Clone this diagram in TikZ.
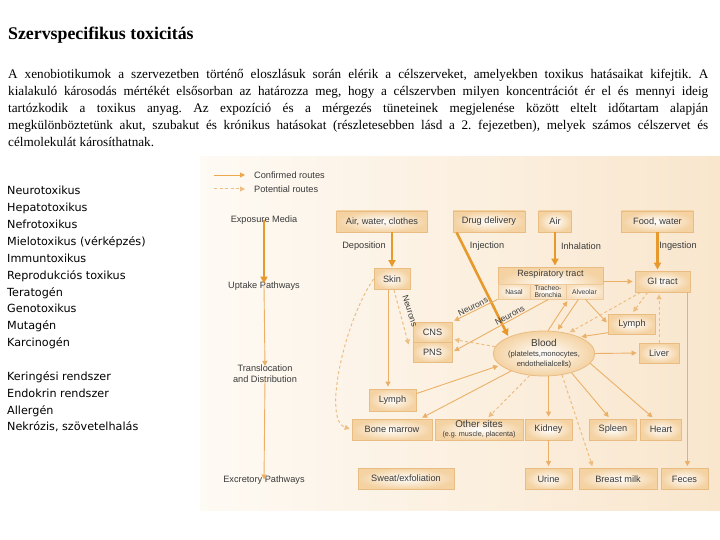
\documentclass[tikz,border=0pt]{standalone}
\usepackage{fontspec}
\setmainfont{Liberation Serif}
\newfontfamily\dfont{Liberation Sans}
\newfontfamily\lfont{DejaVu Sans}
\usetikzlibrary{arrows.meta,calc,shapes.geometric}
\definecolor{thickc}{HTML}{E8992C}
\definecolor{thinc}{HTML}{EBB066}
\definecolor{dashc}{HTML}{EDBD83}
\definecolor{boxfill}{HTML}{F4D2A2}
\definecolor{boxline}{HTML}{E8BC82}
\definecolor{txt}{HTML}{3A3A3A}
\definecolor{panelL}{HTML}{FEFAF4}
\definecolor{panelR}{HTML}{F9E6CD}
\frenchspacing
\begin{document}
\begin{tikzpicture}[x=1pt,y=-1pt,
  box/.style={draw=boxline, line width=0.8pt, inner color=white, outer color=boxfill,
    minimum height=21pt, inner sep=0pt, font=\dfont\fontsize{9.2}{10}\selectfont, text=txt},
  subbox/.style={draw=boxline!80, line width=0.5pt, inner color=white, outer color=boxfill!70,
    minimum height=15pt, inner sep=0pt, align=center, font=\dfont\fontsize{6.8}{6.6}\selectfont, text=txt},
  lbl/.style={inner sep=0pt, font=\dfont\fontsize{9.2}{11}\selectfont, text=txt},
  nlbl/.style={inner sep=0pt, font=\dfont\fontsize{8.5}{9}\selectfont, text=txt},
  plist/.style={anchor=base west, inner sep=0pt, font=\fontsize{13.2}{15}\selectfont},
  llist/.style={anchor=base west, inner sep=0pt, font=\lfont\fontsize{11.2}{12}\selectfont},
  thickarr/.style={draw=thickc, line width=2.6pt, -{Triangle[length=7pt,width=7pt]}, shorten >=1pt},
  thinarr/.style={draw=thinc, line width=0.9pt, -{Triangle[length=5pt,width=5pt]}, shorten >=2pt},
  dasharr/.style={draw=dashc, line width=1pt, dash pattern=on 3pt off 2.5pt, -{Triangle[length=5pt,width=5pt]}, shorten >=2pt}
]
\useasboundingbox (0,0) rectangle (720,540);
\fill[white] (0,0) rectangle (720,540);

% title and paragraph
\node[anchor=base west, inner sep=0pt, font=\bfseries\fontsize{17.8}{19}\selectfont] (title) at (8,40) {Szervspecifikus toxicitás};
\node[plist] (p1) at (8,79) {\makebox[700pt][s]{A xenobiotikumok a szervezetben történő eloszlásuk során elérik a célszerveket, amelyekben toxikus hatásaikat kifejtik. A}};
\node[plist] (p2) at (8,96) {\makebox[700pt][s]{kialakuló károsodás mértékét elsősorban az határozza meg, hogy a célszervben milyen koncentrációt ér el és mennyi ideig}};
\node[plist] (p3) at (8,113) {\makebox[700pt][s]{tartózkodik a toxikus anyag. Az expozíció és a mérgezés tüneteinek megjelenése között eltelt időtartam alapján}};
\node[plist] (p4) at (8,130) {\makebox[700pt][s]{megkülönböztetünk akut, szubakut és krónikus hatásokat (részletesebben lásd a 2. fejezetben), melyek számos célszervet és}};
\node[plist] (p5) at (8,147) {célmolekulát károsíthatnak.};

% left list
\node[llist] (l1) at (7,195) {Neurotoxikus};
\node[llist] (l2) at (7,211.8) {Hepatotoxikus};
\node[llist] (l3) at (7,228.7) {Nefrotoxikus};
\node[llist] (l4) at (7,245.5) {Mielotoxikus (vérképzés)};
\node[llist] (l5) at (7,262.4) {Immuntoxikus};
\node[llist] (l6) at (7,279.2) {Reprodukciós toxikus};
\node[llist] (l7) at (7,296) {Teratogén};
\node[llist] (l8) at (7,312.9) {Genotoxikus};
\node[llist] (l9) at (7,329.8) {Mutagén};
\node[llist] (l10) at (7,346.6) {Karcinogén};
\node[llist] (l11) at (7,380.3) {Keringési rendszer};
\node[llist] (l12) at (7,397.2) {Endokrin rendszer};
\node[llist] (l13) at (7,414) {Allergén};
\node[llist] (l14) at (7,430.9) {Nekrózis, szövetelhalás};

% panel
\fill[left color=panelL, right color=panelR] (200,157) rectangle (720,510);

% legend
\coordinate (lg1s) at (214,175); \coordinate (lg1e) at (247,175);
\coordinate (lg2s) at (214,189); \coordinate (lg2e) at (247,189);
\draw[thinarr, draw=thickc!85] (lg1s) -- (lg1e);
\draw[dasharr] (lg2s) -- (lg2e);
\node[lbl, anchor=west] (lgt1) at (254,175) {Confirmed routes};
\node[lbl, anchor=west] (lgt2) at (254,189) {Potential routes};

% left column
\node[lbl] (em) at (264,220) {Exposure Media};
\node[lbl] (up) at (264,286) {Uptake Pathways};
\node[lbl, align=center] (td) at (265,374) {Translocation\\and Distribution};
\node[lbl] (ex) at (264,480) {Excretory Pathways};
\draw[thickarr] ([yshift=4pt]em.south) -- ([yshift=-3pt]up.north);
\draw[thinarr] ([yshift=5pt]up.south) -- ([yshift=-3pt]td.north);
\draw[thinarr] ([yshift=5pt]td.south) -- ([yshift=-6pt]ex.north);

% top row
\node[box, minimum width=91pt] (awc) at (382,221.5) {Air, water, clothes};
\node[box, minimum width=72pt] (drug) at (489,221.5) {Drug delivery};
\node[box, minimum width=33pt] (air) at (555,221.5) {Air};
\node[box, minimum width=72pt] (food) at (657.5,221.5) {Food, water};
\node[lbl] (dep) at (364,246) {Deposition};
\node[lbl] (inj) at (487,246) {Injection};
\node[lbl] (inh) at (581,246) {Inhalation};
\node[lbl] (ing) at (678,246) {Ingestion};

% organs
\node[box, minimum width=36pt] (skin) at (392,279) {Skin};
\node[box, minimum width=105pt, minimum height=32pt] (resp) at (550.5,283) {};
\node[inner sep=0pt, font=\dfont\fontsize{9}{10}\selectfont, text=txt] (resptitle) at (550.5,274.5) {Respiratory tract};
\node[subbox, minimum width=32pt] (nasal) at (514,291.5) {\\Nasal};
\node[subbox, minimum width=36pt] (trach) at (548,291.5) {Tracheo-\\Bronchia};
\node[subbox, minimum width=37pt] (alv) at (584.5,291.5) {\\Alveolar};
\node[box, minimum width=55pt] (gi) at (662.5,281.5) {GI tract};
\node[box, minimum width=47pt, minimum height=20pt] (lymphR) at (632,324) {Lymph};
\node[box, minimum width=40pt, minimum height=20pt] (liver) at (659,353) {Liver};
\node[box, minimum width=39pt, minimum height=20pt] (cns) at (432.5,332) {CNS};
\node[box, minimum width=39pt, minimum height=20pt] (pns) at (432.5,352) {PNS};
\node[box, minimum width=47pt, minimum height=22pt] (lymphL) at (392.5,400) {Lymph};
\node[ellipse, draw=boxline, line width=0.8pt, inner color=white, outer color=boxfill,
  minimum width=86pt, minimum height=45pt, inner sep=0pt, align=center, text=txt] (blood) at (544,353.5)
  {{\dfont\fontsize{10}{11}\selectfont Blood}\\[-1.5pt]{\dfont\fontsize{7.6}{8}\selectfont (platelets,monocytes,}\\[-2pt]{\dfont\fontsize{7.6}{8}\selectfont endothelialcells)}};
\node[box, minimum width=80pt] (bm) at (392,429.5) {Bone marrow};
\node[box, minimum width=88pt, align=center] (oth) at (479,429.5) {{\fontsize{9.8}{9}\selectfont Other sites}\\[-1pt]{\fontsize{7.2}{7}\selectfont (e.g. muscle, placenta)}};
\node[box, minimum width=47pt] (kidney) at (548.5,429.5) {Kidney};
\node[box, minimum width=47pt] (spleen) at (613,429.5) {Spleen};
\node[box, minimum width=41pt] (heart) at (661,429.5) {Heart};
\node[box, minimum width=96pt] (sweat) at (406,478.5) {Sweat/exfoliation};
\node[box, minimum width=47pt] (urine) at (548.5,479) {Urine};
\node[box, minimum width=78pt] (milk) at (618,479) {Breast milk};
\node[box, minimum width=47pt] (feces) at (684.5,479) {Feces};

% helper coordinates
\coordinate (sk1) at ([xshift=-4pt]skin.south);
\coordinate (sk2) at ([xshift=2pt]skin.south);
\coordinate (pn1) at ([xshift=-4pt,yshift=-3pt]pns.north west);
\coordinate (dr1) at ([xshift=4pt]drug.south west);
\coordinate (alv1) at ([xshift=-18pt]resp.south east);
\coordinate (alv2) at ([xshift=-35pt]resp.south east);
\coordinate (alv3) at ([xshift=-25pt]resp.south east);
\coordinate (tb) at ([xshift=-55pt]resp.south east);
\coordinate (gi1) at ([xshift=-15pt]gi.south);
\coordinate (gi2) at ([xshift=-22pt]gi.south);
\coordinate (gi3) at ([xshift=-3pt]gi.south east);
\coordinate (bm1) at ([xshift=-12pt]bm.north east);
\coordinate (oth1) at ([xshift=8pt]oth.north);
\coordinate (milk1) at ([xshift=-25pt]milk.north);
\coordinate (spl1) at ([xshift=-3pt]spleen.north);
\coordinate (hrt1) at ([xshift=-7pt]heart.north);

% thick arrows (uptake)
\draw[thickarr] (skin.north |- awc.south) -- (skin.north);
\draw[thickarr] (dr1) -- (blood.155);
\draw[thickarr] (air.south) -- (air.south |- resp.north);
\draw[thickarr] (food.south) -- (food.south |- gi.north);

% thin arrows
\draw[thinarr] (resp.east |- gi.west) -- (gi.west);
\draw[thinarr] (sk1) -- (sk1 |- lymphL.north);
\draw[thinarr] (alv1) -- (lymphR.west);
\draw[thinarr] (lymphR.200) -- (blood.25);
\draw[thinarr] (blood.80) -- (alv2);
\draw[thinarr] (alv3) -- (blood.60);
\draw[thinarr] (resp.south west) -- (cns.north east) node[midway, sloped, above=1pt, nlbl] (nr1) {Neurons};
\draw[thinarr] (tb) -- (pns.east) node[pos=0.38, sloped, above=1pt, nlbl] (nr2) {Neurons};
\draw[thinarr] (lymphL.15) -- (blood.195);
\draw[thinarr] (blood.208) -- (bm1);
\draw[thinarr] (kidney.north |- blood.south) -- (kidney.north);
\draw[thinarr] (blood.-35) -- (spl1);
\draw[thinarr] (blood.-12) -- (hrt1);
\draw[thinarr] (blood.east) -- (liver.west);
\draw[thinarr] (kidney.south) -- (urine.north);
\draw[thinarr] (gi3) -- (gi3 |- feces.north);

% dashed arrows
\draw[dasharr, shorten >=0pt] (sk2) -- (pn1);
\node[nlbl, rotate=-72] (nr3) at (410,311) {Neurons};
\draw[dasharr] (skin.west) .. controls (345,320) and (322,420) .. (bm.west);
\draw[dasharr] (blood.172) -- (cns.-20);
\draw[dasharr] (blood.237) -- (oth1);
\draw[dasharr] (blood.-50) -- (milk1);
\draw[dasharr] (liver.north) -- (liver.north |- gi.south);
\draw[dasharr] (gi1) -- (lymphR.north);
\draw[dasharr] (gi2) -- (blood.40);
\end{tikzpicture}
\end{document}
